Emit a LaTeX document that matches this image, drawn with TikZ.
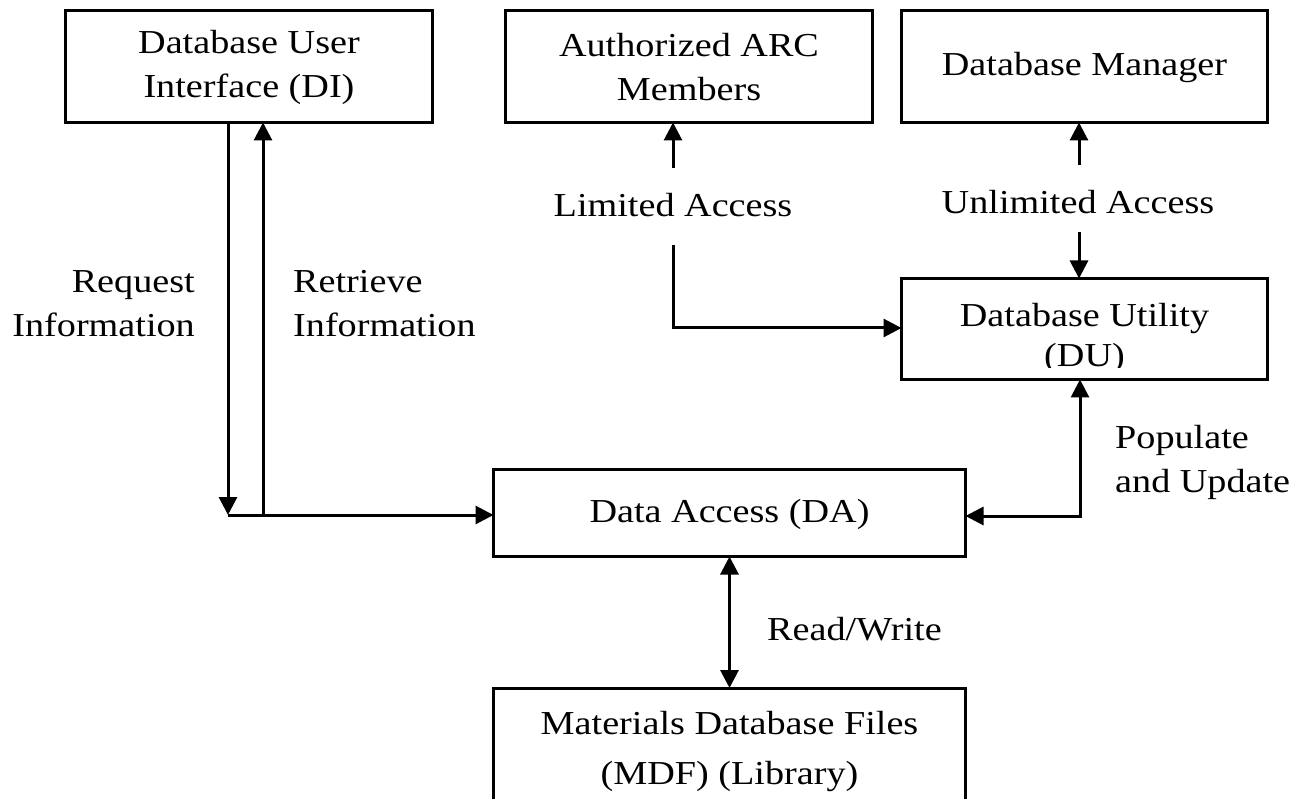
\documentclass[tikz,border=0pt]{standalone}
\usepackage{fontspec}
\setmainfont[FakeStretch=1.14]{Liberation Serif}
\usetikzlibrary{arrows.meta}
\begin{document}
\begin{tikzpicture}[x=1pt,y=-1pt,
  box/.style={draw,line width=3pt,minimum width=#1,inner sep=0pt,outer sep=0pt},
  lbl/.style={font=\fontsize{33.5}{44}\selectfont,inner sep=0pt},
  conn/.style={line width=3pt},
  tip/.style={-{Triangle[length=18pt,width=18pt]}},
  tips/.style={{Triangle[length=18pt,width=18pt]}-{Triangle[length=18pt,width=18pt]}}]
\useasboundingbox (0,0) rectangle (1293,799);
\clip (0,0) rectangle (1293,799);
% boxes
\node[box=367pt,minimum height=112pt] (DI) at (249,66.5) {};
\node[box=367pt,minimum height=112pt] (AM) at (689,66.5) {};
\node[box=366pt,minimum height=112pt] (DM) at (1084.5,66.5) {};
\node[box=366pt,minimum height=101pt] (DU) at (1084.5,329) {};
\node[box=472pt,minimum height=87pt] (DA) at (729.5,513) {};
\node[box=472pt,minimum height=118pt] (MDF) at (729.5,747) {};
% box texts
\node[lbl,align=center] (DIt) at (249,67) {Database User\\Interface (DI)};
\node[lbl,align=center] (AMt) at (689,67) {Authorized ARC\\Members};
\node[lbl] (DMt) at (1084.5,67) {Database Manager};
\begin{scope}
\clip (900,277) rectangle (1269,368);
\node[lbl,align=center,font=\fontsize{33.5}{40}\selectfont] (DUt) at (1084.5,338) {Database Utility\\(DU)};
\end{scope}
\node[lbl] (DAt) at (729.5,514) {Data Access (DA)};
\node[lbl,align=center,font=\fontsize{33.5}{50}\selectfont] (MDFt) at (729.5,751) {Materials Database Files\\(MDF) (Library)};
% labels
\node[lbl,align=right,anchor=east] (req) at (195,304) {Request\\Information};
\node[lbl,align=left,anchor=west] (ret) at (293,304) {Retrieve\\Information};
\node[lbl] (lim) at (673,205) {Limited Access};
\node[lbl] (unl) at (1078,202) {Unlimited Access};
\node[lbl,align=left,anchor=west] (pop) at (1115,462) {Populate\\and Update};
\node[lbl,anchor=west] (rw) at (767,629) {Read/Write};
% coordinates
\coordinate (c1) at (228,515);
\coordinate (c2) at (263,515);
\coordinate (la1) at (673,168);
\coordinate (la2) at (673,245);
\coordinate (la3) at (673,328);
\coordinate (ua1) at (1079,165);
\coordinate (ua2) at (1079,232);
\coordinate (pu) at (1080,516);
% connectors
\draw[conn,tip] (DI.south -| c1) -- (c1);
\draw[conn,tip] (c1) -- (DA.west |- c1);
\draw[conn,tip] (c2) -- (DI.south -| c2);
\draw[conn,tip] (la1) -- (AM.south -| la1);
\draw[conn,tip] (la2) -- (la3) -- (DU.west |- la3);
\draw[conn,tip] (ua1) -- (DM.south -| ua1);
\draw[conn,tip] (ua2) -- (DU.north -| ua2);
\draw[conn,tips] (DA.east |- pu) -- (pu) -- (DU.south -| pu);
\draw[conn,tips] (DA.south) -- (MDF.north);
\end{tikzpicture}
\end{document}
